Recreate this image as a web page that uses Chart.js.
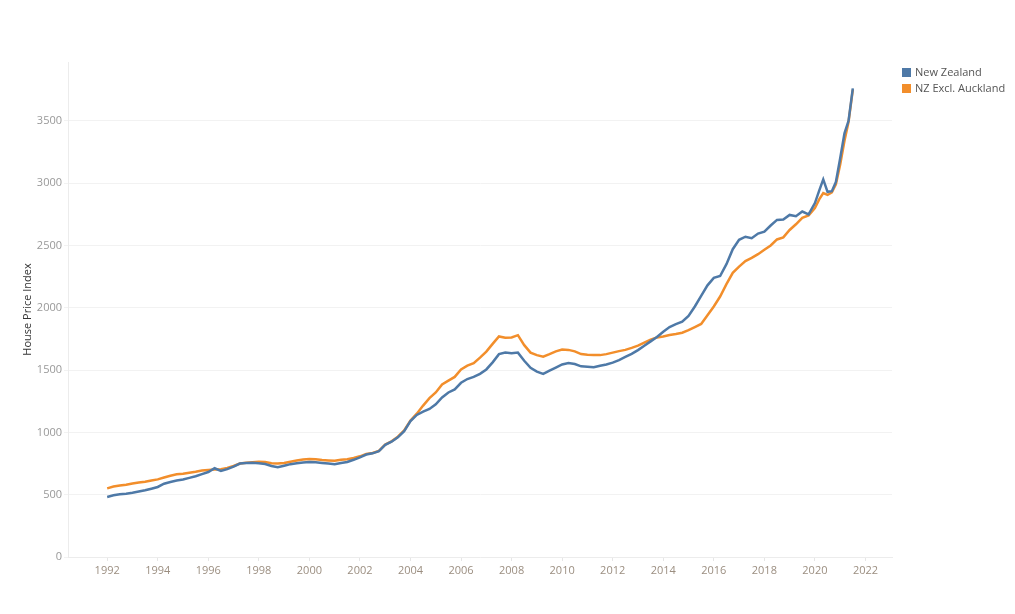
<!DOCTYPE html>
<html>
<head>
<meta charset="utf-8">
<script src="https://cdn.jsdelivr.net/npm/chart.js@4"></script>
<style>
body{margin:0;background:#fff;font-family:'Open Sans',sans-serif;}
#wrap{position:relative;width:1015px;height:614px;}
#legend{position:absolute;left:902px;top:64px;font-size:11px;color:#555;}
#legend div{height:16px;line-height:16px;white-space:nowrap;}
#legend span{display:inline-block;width:9px;height:9px;margin-right:4px;vertical-align:-1px;}
</style>
</head>
<body>
<div id="wrap">
<canvas id="myChart" width="1015" height="614"></canvas>
<div id="legend"></div>
</div>
<script>
'use strict';
// dates as decimal years
let dates=[1992,1992.25,1992.5,1992.75,1993,1993.25,1993.5,1993.75,1994,1994.25,1994.5,1994.75,
1995,1995.25,1995.5,1995.75,1996,1996.25,1996.5,1996.75,1997,1997.25,1997.5,1997.75,
1998,1998.25,1998.5,1998.75,1999,1999.25,1999.5,1999.75,2000,2000.25,2000.5,2000.75,
2001,2001.25,2001.5,2001.75,2002,2002.25,2002.5,2002.75,2003,2003.25,2003.5,2003.75,
2004,2004.25,2004.5,2004.75,2005,2005.25,2005.5,2005.75,2006,2006.25,2006.5,2006.75,
2007,2007.25,2007.5,2007.75,2008,2008.25,2008.5,2008.75,2009,2009.25,2009.5,2009.75,
2010,2010.25,2010.5,2010.75,2011,2011.25,2011.5,2011.75,2012,2012.25,2012.5,2012.75,
2013,2013.25,2013.5,2013.75,2014,2014.25,2014.5,2014.75,2015,2015.25,2015.5,2015.75,
2016,2016.25,2016.5,2016.75,2017,2017.25,2017.5,2017.75,2018,2018.25,2018.5,2018.75,
2019,2019.25,2019.5,2019.75,2020,2020.17,2020.33,2020.5,2020.67,2020.83,2021,2021.17,2021.33,2021.5];

let newZealand=[482,495,503,508,515,525,535,548,562,588,602,614,
622,635,648,665,682,712,690,705,725,750,755,757,
752,746,730,720,732,745,752,758,762,760,755,750,
744,755,762,780,800,822,832,850,900,925,960,1010,
1090,1140,1166,1188,1225,1280,1320,1345,1398,1428,1445,1470,
1505,1562,1628,1640,1635,1640,1575,1518,1488,1470,1495,1520,
1545,1556,1548,1530,1526,1522,1535,1545,1560,1580,1605,1630,
1660,1695,1730,1765,1808,1845,1868,1888,1935,2010,2095,2180,
2240,2255,2350,2470,2545,2570,2558,2595,2610,2660,2705,2708,
2745,2735,2772,2750,2840,2940,3030,2930,2935,3010,3200,3400,3500,3760];

let nzExclAuckland=[551,565,573,580,590,597,604,614,623,638,652,664,
668,676,684,694,698,703,705,715,730,750,757,760,
764,762,752,750,755,765,775,782,786,784,778,775,
773,780,784,795,808,826,835,852,902,928,965,1015,
1095,1150,1215,1275,1320,1385,1415,1445,1505,1535,1555,1600,
1648,1710,1770,1760,1762,1780,1700,1640,1620,1608,1628,1650,
1665,1662,1650,1628,1622,1620,1620,1628,1640,1652,1662,1678,
1696,1720,1745,1762,1770,1782,1790,1800,1820,1845,1870,1940,
2010,2090,2190,2280,2330,2375,2400,2430,2465,2500,2548,2565,
2624,2670,2722,2740,2800,2870,2920,2905,2925,2990,3150,3340,3490,3750];

let xTicks=[1992,1994,1996,1998,2000,2002,2004,2006,2008,2010,2012,2014,2016,2018,2020,2022];
let yTicks=[0,500,1000,1500,2000,2500,3000,3500];
let seriesNames=['New Zealand','NZ Excl. Auckland'];
let seriesColors=['#4e79a7','#f28e2b'];

function points(values)
{
    let out=[];
    for(let i=0;i<dates.length;i++)
    {
        out.push({x:dates[i],y:values[i]});
    }
    return out;
}

let legendEL=document.getElementById('legend');
for(let i=0;i<seriesNames.length;i++)
{
    let row=document.createElement('div');
    let box=document.createElement('span');
    box.style.background=seriesColors[i];
    row.appendChild(box);
    row.appendChild(document.createTextNode(seriesNames[i]));
    legendEL.appendChild(row);
}

let ctx=document.getElementById('myChart').getContext('2d');
let myChart=new Chart(ctx,{
    type:'line',
    data:{
        datasets:[{
            label:seriesNames[0],
            data:points(newZealand),
            borderColor:seriesColors[0],
            borderWidth:2.5,
            pointRadius:0,
            tension:0
        },{
            label:seriesNames[1],
            data:points(nzExclAuckland),
            borderColor:seriesColors[1],
            borderWidth:2.5,
            pointRadius:0,
            tension:0
        }]
    },
    options:{
        responsive:false,
        animation:false,
        layout:{padding:{top:62,right:123,bottom:0,left:0}},
        plugins:{legend:{display:false},tooltip:{enabled:false}},
        scales:{
            x:{
                type:'linear',
                min:1990.45,
                max:2023.05,
                afterBuildTicks:function(scale){scale.ticks=xTicks.map(v=>({value:v}));},
                afterFit:function(scale){scale.height=57;},
                grid:{drawOnChartArea:false,color:'#e6e6e6',tickLength:4},
                border:{color:'#ececec'},
                ticks:{color:'#9b8e80',font:{family:'Open Sans',size:11},padding:3,maxRotation:0,
                    callback:function(v){return String(v);}}
            },
            y:{
                min:0,
                max:3972,
                afterBuildTicks:function(scale){scale.ticks=yTicks.map(v=>({value:v}));},
                afterFit:function(scale){scale.width=68;},
                grid:{color:'#f2f2f2',drawTicks:true,tickLength:4},
                border:{color:'#ececec'},
                ticks:{color:'#999999',font:{family:'Open Sans',size:11},padding:2,
                    callback:function(v){return String(v);}},
                title:{display:true,text:'House Price Index',color:'#333333',
                    font:{family:'Open Sans',size:11},padding:{top:21,bottom:0}}
            }
        }
    }
});
</script>
</body>
</html>
